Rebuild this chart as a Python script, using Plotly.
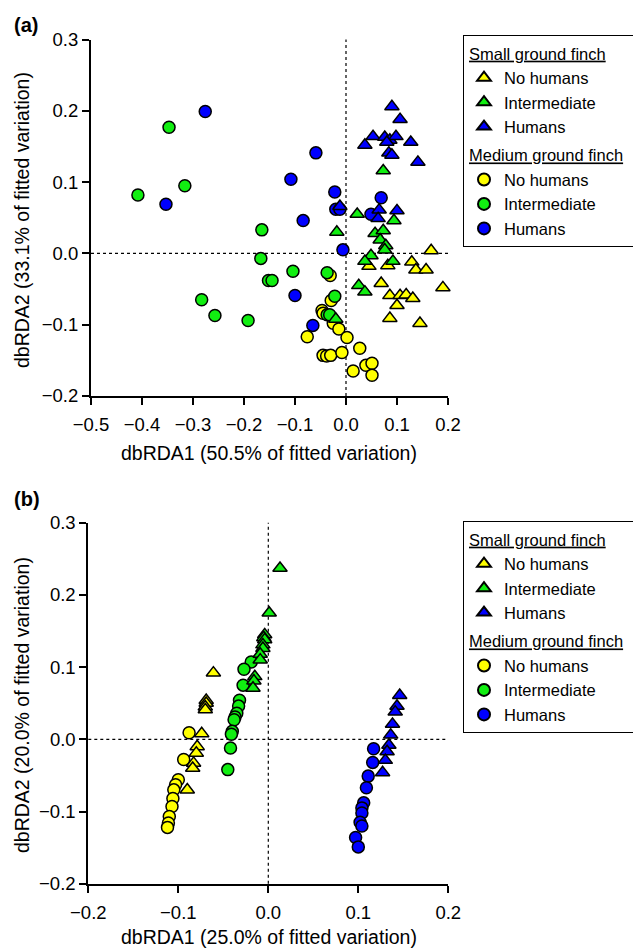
import plotly.graph_objects as go

# ---------------- Panel (a) data ----------------
# Small ground finch (triangles)
a_sgf_none_x = [0.167, 0.045, 0.082, 0.129, 0.137, 0.157, 0.069, 0.086, 0.106, 0.118, 0.131, 0.190, 0.100, 0.086, 0.145]
a_sgf_none_y = [0.004, -0.018, -0.017, -0.012, -0.023, -0.023, -0.042, -0.059, -0.059, -0.058, -0.063, -0.048, -0.073, -0.091, -0.098]
a_sgf_int_x = [0.073, 0.022, 0.094, 0.057, 0.073, 0.067, 0.078, 0.076, 0.049, 0.037, 0.092, 0.025, 0.037, -0.018, -0.020]
a_sgf_int_y = [0.116, 0.055, 0.046, 0.028, 0.032, 0.019, 0.011, 0.005, -0.003, -0.011, -0.011, -0.045, -0.054, 0.030, -0.092]
a_sgf_hum_x = [0.090, 0.106, 0.053, 0.037, 0.076, 0.086, 0.098, 0.080, 0.127, 0.084, 0.090, 0.141, 0.065, 0.063, 0.100, -0.012]
a_sgf_hum_y = [0.206, 0.188, 0.164, 0.152, 0.163, 0.159, 0.164, 0.156, 0.156, 0.141, 0.138, 0.128, 0.061, 0.049, 0.060, 0.066]
# Medium ground finch (circles)
a_mgf_none_x = [-0.031, -0.029, -0.047, -0.045, -0.025, -0.014, -0.076, 0.002, 0.027, -0.045, -0.038, -0.030, -0.008, 0.014, 0.039, 0.051, 0.051]
a_mgf_none_y = [-0.031, -0.066, -0.080, -0.084, -0.098, -0.106, -0.117, -0.118, -0.133, -0.143, -0.144, -0.143, -0.139, -0.165, -0.157, -0.154, -0.171]
a_mgf_int_x = [-0.347, -0.316, -0.408, -0.165, -0.167, -0.104, -0.037, -0.152, -0.145, -0.022, -0.037, -0.032, -0.283, -0.257, -0.192]
a_mgf_int_y = [0.177, 0.095, 0.082, 0.033, -0.007, -0.025, -0.027, -0.038, -0.038, -0.060, -0.086, -0.086, -0.065, -0.087, -0.094]
a_mgf_hum_x = [-0.276, -0.353, -0.059, -0.108, -0.022, -0.020, -0.012, -0.084, 0.069, 0.049, -0.006, -0.100, -0.065]
a_mgf_hum_y = [0.199, 0.069, 0.141, 0.104, 0.086, 0.062, 0.062, 0.046, 0.078, 0.055, 0.005, -0.059, -0.101]

# ---------------- Panel (b) data ----------------
b_sgf_none_x = [-0.061, -0.069, -0.069, -0.070, -0.070, -0.074, -0.079, -0.080, -0.083, -0.084, -0.090]
b_sgf_none_y = [0.092, 0.054, 0.050, 0.045, 0.041, 0.008, -0.010, -0.019, -0.033, -0.040, -0.070]
b_sgf_int_x = [0.013, 0.001, -0.004, -0.005, -0.004, -0.006, -0.006, -0.009, -0.009, -0.015, -0.016, -0.017]
b_sgf_int_y = [0.237, 0.175, 0.145, 0.141, 0.138, 0.131, 0.126, 0.118, 0.110, 0.087, 0.081, 0.071]
b_sgf_hum_x = [0.146, 0.143, 0.141, 0.138, 0.136, 0.134, 0.132, 0.130, 0.127]
b_sgf_hum_y = [0.061, 0.046, 0.038, 0.021, 0.006, -0.008, -0.017, -0.029, -0.046]
b_mgf_none_x = [-0.088, -0.094, -0.100, -0.103, -0.105, -0.106, -0.107, -0.110, -0.111, -0.112]
b_mgf_none_y = [0.009, -0.028, -0.056, -0.063, -0.070, -0.082, -0.093, -0.107, -0.116, -0.122]
b_mgf_int_x = [-0.019, -0.027, -0.028, -0.032, -0.033, -0.035, -0.037, -0.038, -0.040, -0.041, -0.042, -0.045]
b_mgf_int_y = [0.107, 0.097, 0.075, 0.054, 0.046, 0.036, 0.031, 0.027, 0.011, 0.007, -0.012, -0.042]
b_mgf_hum_x = [0.117, 0.116, 0.111, 0.109, 0.106, 0.104, 0.104, 0.102, 0.104, 0.097, 0.100]
b_mgf_hum_y = [-0.013, -0.032, -0.051, -0.067, -0.088, -0.095, -0.102, -0.115, -0.120, -0.136, -0.149]

group_names = ["No humans", "Intermediate", "Humans"]
colors = ["#FFFF00", "#11EE11", "#0000FF"]

FONT = "Liberation Sans, Arial, Helvetica, sans-serif"
TICK_FS = 18.5
TITLE_FS = 19.5
LEG_FS = 16.5

fig = go.Figure()

panels = [
    ("a", "x", "y", "legend",
     [(a_sgf_none_x, a_sgf_none_y), (a_sgf_int_x, a_sgf_int_y), (a_sgf_hum_x, a_sgf_hum_y)],
     [(a_mgf_none_x, a_mgf_none_y), (a_mgf_int_x, a_mgf_int_y), (a_mgf_hum_x, a_mgf_hum_y)]),
    ("b", "x2", "y2", "legend2",
     [(b_sgf_none_x, b_sgf_none_y), (b_sgf_int_x, b_sgf_int_y), (b_sgf_hum_x, b_sgf_hum_y)],
     [(b_mgf_none_x, b_mgf_none_y), (b_mgf_int_x, b_mgf_int_y), (b_mgf_hum_x, b_mgf_hum_y)]),
]

for tag, xa, ya, leg, sgf, mgf in panels:
    # circles first (drawn below), triangles on top
    for i, (xs, ys) in enumerate(mgf):
        fig.add_trace(go.Scatter(
            x=xs, y=ys, mode="markers", xaxis=xa, yaxis=ya, legend=leg,
            name=group_names[i], legendgroup=tag + "mgf", legendrank=10 + i,
            legendgrouptitle=dict(text='<span style="text-decoration:underline">Medium ground finch</span>',
                                  font=dict(size=LEG_FS, family=FONT, color="black")),
            marker=dict(symbol="circle", size=12, color=colors[i], line=dict(color="black", width=1.5)),
            cliponaxis=False))
    for i, (xs, ys) in enumerate(sgf):
        fig.add_trace(go.Scatter(
            x=xs, y=ys, mode="markers", xaxis=xa, yaxis=ya, legend=leg,
            name=group_names[i], legendgroup=tag + "sgf", legendrank=1 + i,
            legendgrouptitle=dict(text='<span style="text-decoration:underline">Small ground finch</span>',
                                  font=dict(size=LEG_FS, family=FONT, color="black")),
            marker=dict(symbol="triangle-up", size=12.5, color=colors[i], line=dict(color="black", width=1.5)),
            cliponaxis=False))

W, H = 641, 948
OFF = 8  # browser body margin: screen px = figure px + OFF


def fx(px):
    return (px - OFF) / W


def fy(py):
    return 1 - (py - OFF) / H


def ax_common(rng, dt, standoff=0):
    d = dict(range=rng, dtick=dt, tick0=0, tickformat=".1f", showline=True, linewidth=2, linecolor="black",
             ticks="outside", ticklen=7, tickwidth=2, tickcolor="black", showgrid=False, zeroline=False,
             automargin=False, tickfont=dict(size=TICK_FS, family=FONT, color="black"), fixedrange=True)
    if standoff:
        d["ticklabelstandoff"] = standoff
    return d


legend_common = dict(bordercolor="black", borderwidth=1, bgcolor="white", xanchor="left", yanchor="top",
                     xref="container", yref="container",
                     font=dict(size=LEG_FS, family=FONT, color="black"), traceorder="grouped",
                     tracegroupgap=4, itemsizing="constant")

fig.update_layout(
    template="none",
    width=W, height=H, margin=dict(l=0, r=0, t=0, b=0, autoexpand=False),
    paper_bgcolor="white", plot_bgcolor="white",
    font=dict(family=FONT, size=16, color="black"),
    xaxis=dict(domain=[fx(91), fx(448)], anchor="y", **ax_common([-0.5, 0.2], 0.1, 4)),
    yaxis=dict(domain=[fy(396), fy(39.5)], anchor="x", **ax_common([-0.2, 0.3], 0.1)),
    xaxis2=dict(domain=[fx(88.3), fx(448.3)], anchor="y2", **ax_common([-0.2, 0.2], 0.1, 4)),
    yaxis2=dict(domain=[fy(883.7), fy(522.7)], anchor="x2", **ax_common([-0.2, 0.3], 0.1)),
    legend=dict(x=fx(463), y=fy(35), **legend_common),
    legend2=dict(x=fx(463), y=fy(521), **legend_common),
    showlegend=True,
)

# dotted zero lines
for xa, ya in [("x", "y"), ("x2", "y2")]:
    fig.add_shape(type="line", xref=xa, yref=ya + " domain", x0=0, x1=0, y0=0, y1=1,
                  line=dict(color="black", width=1.2, dash="dot"), layer="below")
    fig.add_shape(type="line", xref=xa + " domain", yref=ya, x0=0, x1=1, y0=0, y1=0,
                  line=dict(color="black", width=1.2, dash="dot"), layer="below")

# titles and panel labels
annots = [
    dict(text="<b>(a)</b>", x=fx(12), y=fy(25), xanchor="left", yanchor="middle", font=dict(size=20)),
    dict(text="<b>(b)</b>", x=fx(12), y=fy(499), xanchor="left", yanchor="middle", font=dict(size=20)),
    dict(text="dbRDA1 (50.5% of fitted variation)", x=fx(269), y=fy(453), xanchor="center", yanchor="middle"),
    dict(text="dbRDA1 (25.0% of fitted variation)", x=fx(269), y=fy(937), xanchor="center", yanchor="middle"),
    dict(text="dbRDA2 (33.1% of fitted variation)", x=fx(22), y=fy(220), xanchor="center", yanchor="middle", textangle=-90),
    dict(text="dbRDA2 (20.0% of fitted variation)", x=fx(22), y=fy(705), xanchor="center", yanchor="middle", textangle=-90),
]
for a in annots:
    a.setdefault("font", dict(size=TITLE_FS))
    a["font"].update(family=FONT, color="black")
    fig.add_annotation(xref="paper", yref="paper", showarrow=False, **a)

fig.write_html("out.html")
